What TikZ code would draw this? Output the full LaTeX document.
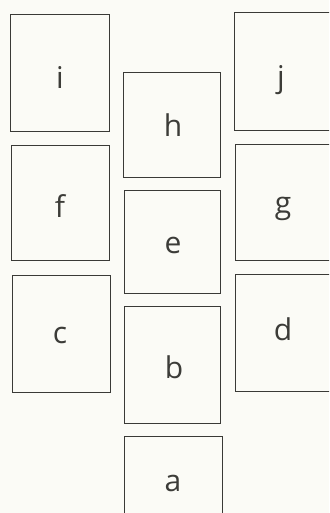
\documentclass[tikz,border=0pt]{standalone}
\usepackage{fontspec}
\setmainfont{Open Sans}
\definecolor{paper}{HTML}{FBFBF6}
\definecolor{ink}{HTML}{3A3A36}
\definecolor{txt}{HTML}{3C3C38}
\begin{document}
\begin{tikzpicture}[x=1pt,y=-1pt,
  cell/.style={draw=ink, line width=0.9pt, inner sep=0pt, outer sep=0pt, anchor=north west},
  lbl/.style={text=txt, font=\fontsize{30}{30}\selectfont, anchor=base, inner sep=0pt}]
\useasboundingbox (0,0) rectangle (329,513);
\fill[paper] (0,0) rectangle (329,513);
\clip (0,0) rectangle (329,513);
% left column
\node[cell, minimum width=99pt, minimum height=117pt] (bi) at (10,14) {};
\node[cell, minimum width=98pt, minimum height=115pt] (bf) at (11,145) {};
\node[cell, minimum width=98pt, minimum height=117pt] (bc) at (12,275) {};
% middle column
\node[cell, minimum width=97pt, minimum height=105pt] (bh) at (123,72) {};
\node[cell, minimum width=96pt, minimum height=103pt] (be) at (124,190) {};
\node[cell, minimum width=96pt, minimum height=117pt] (bb) at (124,306) {};
\node[cell, minimum width=98pt, minimum height=90pt] (ba) at (124,436) {};
% right column
\node[cell, minimum width=110pt, minimum height=118pt] (bj) at (234,12) {};
\node[cell, minimum width=110pt, minimum height=116pt] (bg) at (235,144) {};
\node[cell, minimum width=110pt, minimum height=117pt] (bd) at (235,274) {};
% labels
\node[lbl] (li) at (60,89) {i};
\node[lbl] (lf) at (60,217) {f};
\node[lbl] (lc) at (60,343) {c};
\node[lbl] (lh) at (173,137) {h};
\node[lbl] (le) at (173,253) {e};
\node[lbl] (lb) at (174,378) {b};
\node[lbl] (la) at (173,491) {a};
\node[lbl] (lj) at (281,88) {j};
\node[lbl] (lg) at (283,213) {g};
\node[lbl] (ld) at (283,340) {d};
\end{tikzpicture}
\end{document}
